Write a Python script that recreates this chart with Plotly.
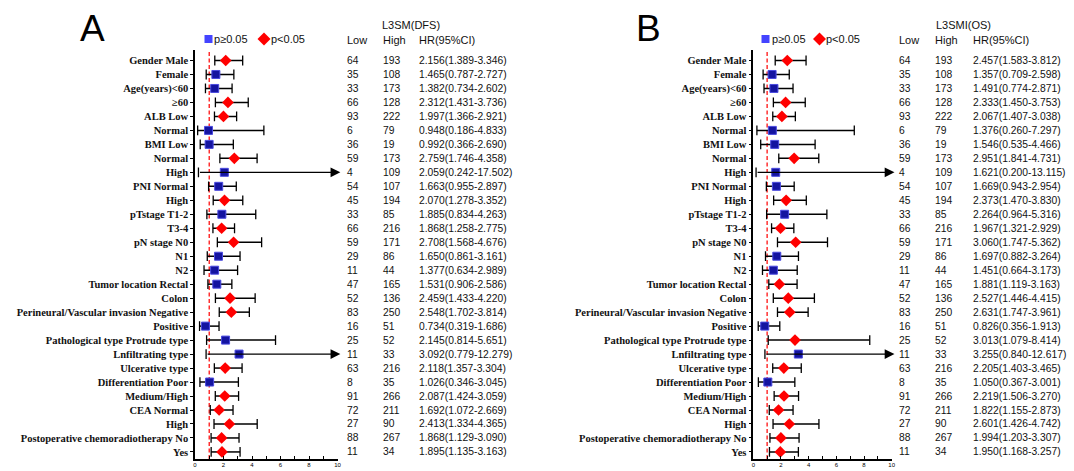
import plotly.graph_objects as go

W, H = 1074, 471

labels = ["Gender Male", "Female", "Age(years)<60", "≥60", "ALB Low", "Normal", "BMI Low",
          "Normal", "High", "PNI Normal", "High", "pTstage T1-2", "T3-4", "pN stage N0", "N1",
          "N2", "Tumor location Rectal", "Colon", "Perineural/Vascular invasion Negative",
          "Positive", "Pathological type Protrude type", "Lnfiltrating type", "Ulcerative type",
          "Differentiation Poor", "Medium/High", "CEA Normal", "High",
          "Postoperative chemoradiotherapy No", "Yes"]

# Panel A: L3SM (DFS)
low_a = [64, 35, 33, 66, 93, 6, 36, 59, 4, 54, 45, 33, 66, 59, 29, 11, 47, 52, 83, 16, 25, 11, 63, 8, 91, 72, 27, 88, 11]
high_a = [193, 108, 173, 128, 222, 79, 19, 173, 109, 107, 194, 85, 216, 171, 86, 44, 165, 136, 250, 51, 52, 33, 216, 35, 266, 211, 90, 267, 34]
hr_a = [2.156, 1.465, 1.382, 2.312, 1.997, 0.948, 0.992, 2.759, 2.059, 1.663, 2.070, 1.885, 1.868, 2.708, 1.650,
        1.377, 1.531, 2.459, 2.548, 0.734, 2.145, 3.092, 2.118, 1.026, 2.087, 1.692, 2.413, 1.868, 1.895]
lo_a = [1.389, 0.787, 0.734, 1.431, 1.366, 0.186, 0.366, 1.746, 0.242, 0.955, 1.278, 0.834, 1.258, 1.568, 0.861,
        0.634, 0.906, 1.433, 1.702, 0.319, 0.814, 0.779, 1.357, 0.346, 1.424, 1.072, 1.334, 1.129, 1.135]
hi_a = [3.346, 2.727, 2.602, 3.736, 2.921, 4.833, 2.690, 4.358, 17.502, 2.897, 3.352, 4.263, 2.775, 4.676, 3.161,
        2.989, 2.586, 4.220, 3.814, 1.686, 5.651, 12.279, 3.304, 3.045, 3.059, 2.669, 4.365, 3.090, 3.163]

# Panel B: L3SMI (OS)
low_b = [64, 35, 33, 66, 93, 6, 36, 59, 4, 54, 45, 33, 66, 59, 29, 11, 47, 52, 83, 16, 25, 11, 63, 8, 91, 72, 27, 88, 11]
high_b = [193, 108, 173, 128, 222, 79, 19, 173, 109, 107, 194, 85, 216, 171, 86, 44, 165, 136, 250, 51, 52, 33, 216, 35, 266, 211, 90, 267, 34]
hr_b = [2.457, 1.357, 1.491, 2.333, 2.067, 1.376, 1.546, 2.951, 1.621, 1.669, 2.373, 2.264, 1.967, 3.060, 1.697,
        1.451, 1.881, 2.527, 2.631, 0.826, 3.013, 3.255, 2.205, 1.050, 2.219, 1.822, 2.601, 1.994, 1.950]
lo_b = [1.583, 0.709, 0.774, 1.450, 1.407, 0.260, 0.535, 1.841, 0.200, 0.943, 1.470, 0.964, 1.321, 1.747, 0.882,
        0.664, 1.119, 1.446, 1.747, 0.356, 1.079, 0.840, 1.403, 0.367, 1.506, 1.155, 1.426, 1.203, 1.168]
hi_b = [3.812, 2.598, 2.871, 3.753, 3.038, 7.297, 4.466, 4.731, 13.115, 2.954, 3.830, 5.316, 2.929, 5.362, 3.264,
        3.173, 3.163, 4.415, 3.961, 1.913, 8.414, 12.617, 3.465, 3.001, 3.270, 2.873, 4.742, 3.307, 3.257]

x_ticks = [0, 1, 2, 3, 4, 5, 6, 7, 8, 9, 10]
x_ticktext = ["0", "", "2", "", "4", "", "6", "", "8", "", "10"]
XMAX = 10
ARROW_TIP = 10.2

RED = "#ff0000"
BLUE_FILL = "#1414a0"
BLUE_EDGE = "#4a4ae0"
SERIF = "Liberation Serif"
SANS = "Liberation Sans"
TXT = "#111111"

panels = [
    dict(title="L3SM(DFS)", letter="A", low=low_a, high=high_a, hr=hr_a, lo=lo_a, hi=hi_a,
         xdom=(195, 337.5), cols=(346, 382, 418), title_x=380.5, letter_x=92,
         leg=(208.5, 213, 264, 269.5)),
    dict(title="L3SMI(OS)", letter="B", low=low_b, high=high_b, hr=hr_b, lo=lo_b, hi=hi_b,
         xdom=(753.3, 891.7), cols=(898, 934, 971.5), title_x=935, letter_x=648,
         leg=(765.5, 771, 819.5, 825)),
]

ROW0_PX, ROW_STEP = 60.5, 13.98
TOP_PX, BOT_PX = 50, 459
n = len(labels)
rows = list(range(n))
yr_top = (TOP_PX - ROW0_PX) / ROW_STEP
yr_bot = (BOT_PX - ROW0_PX) / ROW_STEP


def py(p):
    return 1 - p / H


fig = go.Figure()
annotations = []
shapes = []

for i, p in enumerate(panels):
    k = "" if i == 0 else "2"
    xa, ya = "x" + k, "y" + k
    lx, ly, cx, cy = [], [], [], []
    for r in rows:
        lo, hi = p["lo"][r], p["hi"][r]
        cx.append(lo); cy.append(r)
        if hi <= XMAX:
            lx += [lo, hi, None]; ly += [r, r, None]
            cx.append(hi); cy.append(r)
        else:
            annotations.append(dict(x=ARROW_TIP, y=r, ax=lo, ay=r, xref=xa, yref=ya, axref=xa, ayref=ya,
                                    showarrow=True, arrowhead=2, arrowsize=1.4, arrowwidth=1.4,
                                    arrowcolor="black", text="", standoff=0, startstandoff=0))
    fig.add_trace(go.Scatter(x=lx, y=ly, mode="lines", line=dict(color="black", width=1.5),
                             xaxis=xa, yaxis=ya, showlegend=False, hoverinfo="skip"))
    fig.add_trace(go.Scatter(x=cx, y=cy, mode="markers",
                             marker=dict(symbol="line-ns", size=7, line=dict(color="black", width=1.3)),
                             xaxis=xa, yaxis=ya, showlegend=False, hoverinfo="skip"))
    sig = [r for r in rows if p["lo"][r] > 1 or p["hi"][r] < 1]
    ns = [r for r in rows if r not in sig]
    fig.add_trace(go.Scatter(x=[p["hr"][r] for r in ns], y=ns, mode="markers",
                             marker=dict(symbol="square", size=8, color=BLUE_FILL,
                                         line=dict(color=BLUE_EDGE, width=1)),
                             xaxis=xa, yaxis=ya, showlegend=False))
    fig.add_trace(go.Scatter(x=[p["hr"][r] for r in sig], y=sig, mode="markers",
                             marker=dict(symbol="diamond", size=9, color=RED, line=dict(width=0)),
                             xaxis=xa, yaxis=ya, showlegend=False))
    shapes.append(dict(type="line", xref=xa, x0=1, x1=1, yref=ya + " domain", y0=0, y1=1,
                       line=dict(color="#ff3030", width=1.5, dash="4px,2.5px"), layer="below"))
    c1, c2, c3 = p["cols"]
    for r in rows:
        for cx_, txt in ((c1, str(p["low"][r])), (c2, str(p["high"][r])),
                         (c3, f"{p['hr'][r]:.3f}({p['lo'][r]:.3f}-{p['hi'][r]:.3f})")):
            annotations.append(dict(x=cx_ / W, y=r, xref="paper", yref=ya, text=txt, showarrow=False,
                                    xanchor="left", yanchor="middle", borderpad=0,
                                    font=dict(family=SANS, size=10.3, color=TXT)))
    for cx_, txt in ((c1, "Low"), (c2, "High"), (c3, "HR(95%CI)")):
        annotations.append(dict(x=cx_ / W, y=py(40), xref="paper", yref="paper", text=txt, showarrow=False,
                                xanchor="left", yanchor="middle", borderpad=0,
                                font=dict(family=SANS, size=11, color=TXT)))
    annotations.append(dict(x=p["title_x"] / W, y=py(25), xref="paper", yref="paper", text=p["title"],
                            showarrow=False, xanchor="left", yanchor="middle", borderpad=0,
                            font=dict(family=SANS, size=11, color=TXT)))
    annotations.append(dict(x=p["letter_x"] / W, y=py(28.5), xref="paper", yref="paper", text=p["letter"],
                            showarrow=False, xanchor="center", yanchor="middle",
                            font=dict(family=SANS, size=37, color="black")))
    sq_x, t1_x, dm_x, t2_x = p["leg"]
    fig.add_trace(go.Scatter(x=[sq_x], y=[39], mode="markers", xaxis="x3", yaxis="y3",
                             marker=dict(symbol="square", size=8, color="#4444ff"),
                             showlegend=False, hoverinfo="skip"))
    fig.add_trace(go.Scatter(x=[dm_x], y=[39], mode="markers", xaxis="x3", yaxis="y3",
                             marker=dict(symbol="diamond", size=10, color=RED),
                             showlegend=False, hoverinfo="skip"))
    for tx, txt in ((t1_x, "p≥0.05"), (t2_x, "p<0.05")):
        annotations.append(dict(x=tx / W, y=py(39.5), xref="paper", yref="paper", text=txt, showarrow=False,
                                xanchor="left", yanchor="middle", borderpad=0,
                                font=dict(family=SANS, size=11, color=TXT)))

ydom = [py(BOT_PX), py(TOP_PX)]
xaxis_common = dict(range=[0, XMAX], tickvals=x_ticks, ticktext=x_ticktext, ticks="inside", ticklen=3,
                    tickwidth=1, tickcolor="black", showline=True, linecolor="black", linewidth=1.5,
                    showgrid=False, zeroline=False, tickfont=dict(family=SANS, size=6, color="black"),
                    ticklabelstandoff=-1, fixedrange=True)
yaxis_common = dict(range=[yr_bot, yr_top], tickvals=rows, ticktext=labels, ticks="outside", ticklen=3,
                    tickwidth=1, tickcolor="black", showline=True, linecolor="black", linewidth=1.5,
                    showgrid=False, zeroline=False, domain=ydom,
                    tickfont=dict(family=SERIF, size=10.5, color=TXT, weight="bold"), fixedrange=True)

fig.update_layout(
    width=W, height=H, margin=dict(l=0, r=0, t=0, b=0, autoexpand=False),
    paper_bgcolor="white", plot_bgcolor="rgba(0,0,0,0)", showlegend=False,
    xaxis=dict(domain=[panels[0]["xdom"][0] / W, panels[0]["xdom"][1] / W], anchor="y", **xaxis_common),
    yaxis=dict(anchor="x", **yaxis_common),
    xaxis2=dict(domain=[panels[1]["xdom"][0] / W, panels[1]["xdom"][1] / W], anchor="y2", **xaxis_common),
    yaxis2=dict(anchor="x2", **yaxis_common),
    xaxis3=dict(domain=[0, 1], range=[0, W], visible=False, anchor="y3", fixedrange=True),
    yaxis3=dict(domain=[0, 1], range=[H, 0], visible=False, anchor="x3", fixedrange=True),
    annotations=annotations, shapes=shapes,
)

fig.write_html("out.html", config={"displayModeBar": False},
               post_script="document.body.style.margin='0';document.body.style.overflow='hidden';")
